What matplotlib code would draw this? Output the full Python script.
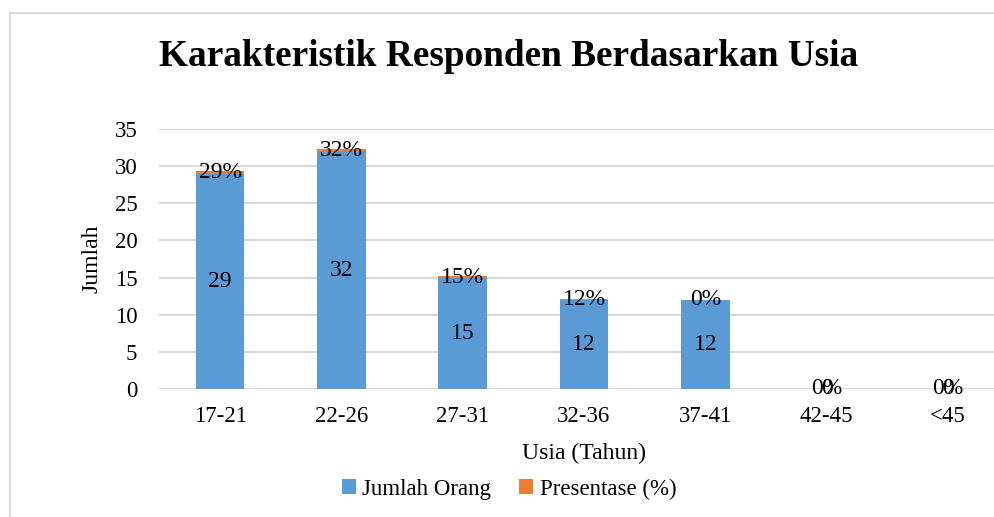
import matplotlib
matplotlib.use('Agg')
import matplotlib.pyplot as plt
from matplotlib.lines import Line2D
import numpy as np

plt.rcParams['font.family'] = ['Liberation Serif', 'DejaVu Serif']

kategori = ['17-21', '22-26', '27-31', '32-36', '37-41', '42-45', '<45']
jumlah = [29, 32, 15, 12, 12, 0, 0]
presentase = [0.29, 0.32, 0.15, 0.12, 0, 0, 0]
label_pres = ['29%', '32%', '15%', '12%', '0%', '0%', '0%']

biru = '#5b9bd5'
oranye = '#ed7d31'

fig = plt.figure(figsize=(9.95, 5.17), dpi=100)

# chart border (cropped on right/bottom like the screenshot)
fig.add_artist(Line2D([10/995, 10/995], [0, 1-13/517], color='#d9d9d9', lw=1.5, transform=fig.transFigure))
fig.add_artist(Line2D([10/995, 1], [1-13/517, 1-13/517], color='#d9d9d9', lw=1.5, transform=fig.transFigure))

ax = fig.add_axes([159.5/995, 128/517, 849/995, 260/517])
x = np.arange(len(kategori))
ax.bar(x, jumlah, width=0.4, color=biru, label='Jumlah Orang', zorder=2)
ax.bar(x, presentase, width=0.4, bottom=jumlah, color=oranye, label='Presentase (%)', zorder=2)

for i in range(len(x)):
    ax.text(x[i], jumlah[i] / 2, str(jumlah[i]), ha='center', va='center', fontsize=17)
    ax.text(x[i], jumlah[i] + presentase[i] / 2, label_pres[i], ha='center', va='center', fontsize=17)

ax.set_xlim(-0.5, 6.5)
ax.set_ylim(0, 35)
ax.set_yticks(range(0, 36, 5))
ax.set_xticks(x)
ax.set_xticklabels(kategori)
ax.tick_params(axis='both', length=0, labelsize=16.5)
ax.tick_params(axis='x', pad=12)
ax.tick_params(axis='y', pad=16)
ax.yaxis.grid(True, color='#d9d9d9', lw=1.5, zorder=0)
for s in ax.spines.values():
    s.set_visible(False)

ax.set_xlabel('Usia (Tahun)', fontsize=17, labelpad=12)
ax.set_ylabel('Jumlah', fontsize=17, labelpad=9)

fig.text(509/995, 1-56/517, 'Karakteristik Responden Berdasarkan Usia', ha='center', va='center',
         fontsize=26.8, fontweight='bold')

fig.legend(loc='center', bbox_to_anchor=(509/995, 1-489/517), ncol=2, frameon=False,
           fontsize=16.5, handlelength=0.6, handleheight=0.6, handletextpad=0.3, columnspacing=1.2)

fig.savefig('out.png', dpi=100)
